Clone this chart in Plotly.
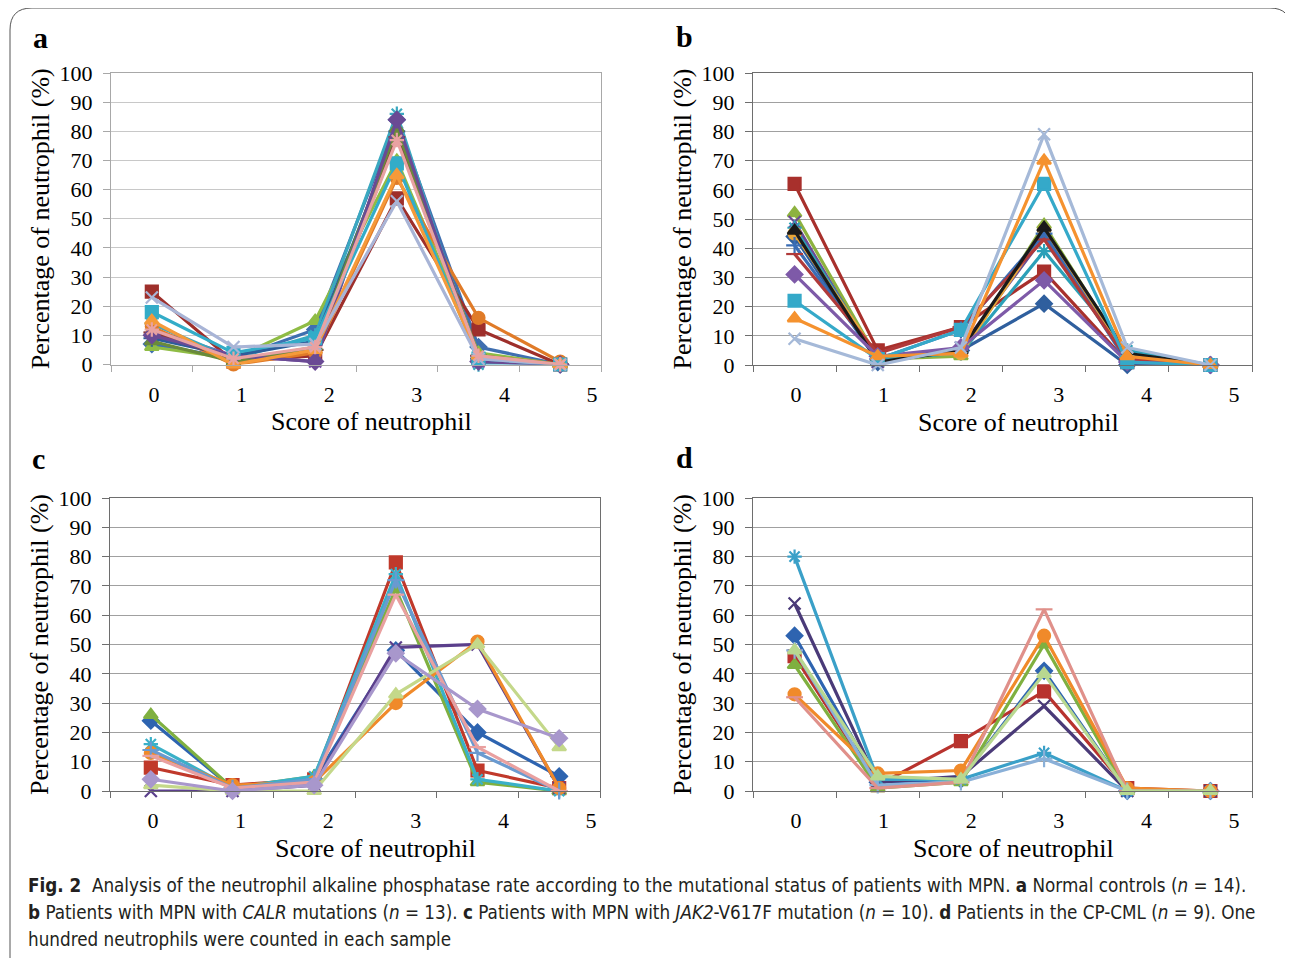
import plotly.graph_objects as go

# ---------------- data ----------------
scores = [0, 1, 2, 3, 4, 5]

# Panel a: normal controls (n = 14)
a_s1 = [7, 2, 12, 84, 6, 0]
a_s2 = [25, 1, 3, 57, 12, 0]
a_s3 = [6, 2, 15, 70, 4, 0]
a_s4 = [12, 3, 1, 83, 1, 0]
a_s5 = [14, 2, 10, 86, 0, 0]
a_s6 = [13, 0, 4, 64, 16, 1]
a_s7 = [9, 3, 8, 80, 2, 0]
a_s8 = [11, 2, 5, 78, 3, 0]
a_s9 = [8, 1, 6, 81, 3, 0]
a_s10 = [10, 3, 1, 84, 1, 0]
a_s11 = [18, 4, 9, 69, 2, 0]
a_s12 = [15, 0, 5, 65, 3, 0]
a_s13 = [23, 6, 7, 56, 2, 0]
a_s14 = [12, 2, 6, 77, 3, 0]

# Panel b: CALR mutations (n = 13)
b_s1 = [44, 1, 5, 21, 0, 0]
b_s2 = [62, 5, 13, 32, 1, 0]
b_s3 = [52, 2, 3, 48, 3, 0]
b_s4 = [49, 1, 6, 44, 2, 0]
b_s5 = [47, 2, 4, 39, 5, 0]
b_s6 = [45, 3, 4, 46, 3, 0]
b_s7 = [41, 2, 12, 45, 1, 0]
b_s8 = [38, 4, 13, 43, 2, 0]
b_s9 = [46, 1, 5, 47, 4, 0]
b_s10 = [31, 3, 6, 29, 1, 0]
b_s11 = [22, 2, 12, 62, 1, 0]
b_s12 = [16, 3, 4, 70, 3, 0]
b_s13 = [9, 0, 6, 79, 6, 0]

# Panel c: JAK2-V617F mutation (n = 10)
c_s1 = [24, 1, 4, 48, 20, 5]
c_s2 = [8, 2, 4, 78, 7, 1]
c_s3 = [26, 1, 5, 69, 3, 0]
c_s4 = [0, 0, 2, 49, 50, 1]
c_s5 = [16, 1, 5, 74, 4, 0]
c_s6 = [13, 2, 3, 30, 51, 1]
c_s7 = [14, 1, 4, 72, 13, 0]
c_s8 = [12, 1, 3, 67, 15, 0]
c_s9 = [2, 0, 0, 33, 50, 15]
c_s10 = [4, 0, 2, 47, 28, 18]

# Panel d: CP-CML (n = 9)
d_s1 = [53, 3, 4, 41, 0, 0]
d_s2 = [46, 2, 17, 34, 1, 0]
d_s3 = [43, 1, 3, 50, 0, 0]
d_s4 = [64, 3, 5, 29, 0, 0]
d_s5 = [80, 4, 4, 13, 0, 0]
d_s6 = [33, 6, 7, 53, 1, 0]
d_s7 = [48, 2, 3, 11, 0, 0]
d_s8 = [32, 1, 3, 62, 0, 0]
d_s9 = [48, 5, 4, 40, 0, 0]

panel_a = [a_s1, a_s2, a_s3, a_s4, a_s5, a_s6, a_s7, a_s8, a_s9, a_s10, a_s11, a_s12, a_s13, a_s14]
panel_b = [b_s1, b_s2, b_s3, b_s4, b_s5, b_s6, b_s7, b_s8, b_s9, b_s10, b_s11, b_s12, b_s13]
panel_c = [c_s1, c_s2, c_s3, c_s4, c_s5, c_s6, c_s7, c_s8, c_s9, c_s10]
panel_d = [d_s1, d_s2, d_s3, d_s4, d_s5, d_s6, d_s7, d_s8, d_s9]

panel_letters = ["a", "b", "c", "d"]
x_title = "Score of neutrophil"
y_title = "Percentage of neutrophil (%)"
caption_lines = [
    "<b>Fig. 2</b>  Analysis of the neutrophil alkaline phosphatase rate according to the mutational status of patients with MPN. <b>a</b> Normal controls (<i>n</i> = 14).",
    "<b>b</b> Patients with MPN with <i>CALR</i> mutations (<i>n</i> = 13). <b>c</b> Patients with MPN with <i>JAK2</i>-V617F mutation (<i>n</i> = 10). <b>d</b> Patients in the CP-CML (<i>n</i> = 9). One",
    "hundred neutrophils were counted in each sample",
]

# ---------------- styles ----------------
colors_a = ['#3f6fb0', '#9e2f2b', '#8fbc45', '#7a4fa8', '#3aa8c0', '#e07b28', '#2c5d9a',
            '#8a3a3a', '#6a8a3a', '#6a4a94', '#33acc8', '#f59a3a', '#a8b4d6', '#e8a2a2']
colors_b = ['#2f5f9e', '#a8302c', '#8db23f', '#6b4a94', '#2ca0b8', '#e8a63a', '#3a6db5',
            '#b03a3a', '#1a1a1a', '#7e5aa8', '#35a9c9', '#f5922f', '#a5b9d8']
colors_c = ['#2e64b0', '#c0392b', '#7fb040', '#5b3f8c', '#3ab0c8', '#f08a2a', '#6a9ad0',
            '#e9a0a0', '#c4d88a', '#a897cc']
colors_d = ['#2e64b0', '#b8332e', '#7fb040', '#4a3a78', '#3aa0c8', '#f08a2a', '#8ab0d8',
            '#e0908a', '#b8d890']
symbols = ['diamond', 'square', 'triangle-up', 'x-thin-open', 'asterisk-open', 'circle',
           'cross-thin-open', 'line-ew-open', 'triangle-up', 'diamond', 'square',
           'triangle-up', 'x-thin-open', 'asterisk-open']

W, H = 1293, 958
OFF = 8  # page body margin of the browser
def px(x):
    return (x - OFF) / W
def py(y):
    return 1 - (y - OFF) / H

SERIF = "Liberation Serif, Times New Roman, serif"

# pixel geometry (reference image coords) of each panel
geo = [
    dict(l=111, r=601, t=73, b=364.5, l0=154, l5=592, tx=371, lx=40, ly=38, border='#a8a8a8', grid='#c8c8c8'),
    dict(l=753, r=1252, t=73, b=365, l0=796, l5=1234, tx=1018, lx=684, ly=37, border='#6e6e6e', grid='#a0a0a0'),
    dict(l=110, r=600, t=498, b=791, l0=153, l5=591, tx=375, lx=38, ly=458, border='#6e6e6e', grid='#a0a0a0'),
    dict(l=753, r=1252, t=498, b=791, l0=796, l5=1234, tx=1013, lx=684, ly=457, border='#6e6e6e', grid='#a0a0a0'),
]

fig = go.Figure()
panels = [panel_a, panel_b, panel_c, panel_d]
panel_colors = [colors_a, colors_b, colors_c, colors_d]

for i, (series, cols) in enumerate(zip(panels, panel_colors)):
    k = i + 1
    for j, vals in enumerate(series):
        fig.add_trace(go.Scatter(
            x=scores, y=vals, mode='lines+markers',
            xaxis=f'x{k}', yaxis=f'y{k}',
            line=dict(color=cols[j], width=3.2),
            marker=dict(symbol=symbols[j], size=12, color=cols[j],
                        line=dict(color=cols[j], width=2.2)),
            cliponaxis=False, showlegend=False, hoverinfo='x+y'))
    fig.add_trace(go.Scatter(x=[], y=[], xaxis=f'x{k+4}', yaxis=f'y{k}',
                             showlegend=False, hoverinfo='skip'))

layout = dict(
    template='none',
    width=W, height=H, margin=dict(l=0, r=0, t=0, b=0, pad=0, autoexpand=False),
    paper_bgcolor='white', plot_bgcolor='white', showlegend=False,
    font=dict(family=SERIF, color='black'),
)

annotations = []
for i, g in enumerate(geo):
    k = i + 1
    layout[f'xaxis{k}'] = dict(
        domain=[px(g['l']), px(g['r'])], anchor=f'y{k}', range=[-0.5, 5.5],
        tickmode='linear', tick0=-0.5, dtick=1, ticks='outside', ticklen=6,
        tickcolor=g['border'], showticklabels=False, showgrid=False, zeroline=False,
        showline=True, linecolor=g['border'], linewidth=1, mirror=True, automargin=False)
    layout[f'yaxis{k}'] = dict(
        domain=[py(g['b']), py(g['t'])], anchor=f'x{k}', range=[0, 100],
        tickmode='linear', tick0=0, dtick=10, ticks='outside', ticklen=7,
        tickcolor=g['border'], showgrid=True, gridcolor=g['grid'], gridwidth=1,
        zeroline=False, showline=True, linecolor=g['border'], linewidth=1, mirror=True,
        tickfont=dict(family=SERIF, size=22, color='black'), ticklabelstandoff=6,
        automargin=False,
        title=dict(text=y_title, font=dict(family=SERIF, size=26, color='black'), standoff=2))
    # label axis overlaying the data axis: the printed labels are spaced wider than the categories
    step = (g['l5'] - g['l0']) / 5.0
    lo = (g['l'] - g['l0']) / step
    hi = (g['r'] - g['l0']) / step
    layout[f'xaxis{k+4}'] = dict(
        overlaying=f'x{k}', anchor=f'y{k}', side='bottom', range=[lo, hi],
        tickmode='linear', tick0=0, dtick=1, ticks='', showgrid=False, zeroline=False,
        showline=False, tickfont=dict(family=SERIF, size=22, color='black'),
        ticklabelstandoff=14, automargin=False)
    annotations.append(dict(text=x_title, x=px(g['tx']), y=py(g['b'] + 57), xref='paper',
                            yref='paper', showarrow=False, xanchor='center', yanchor='middle',
                            font=dict(family=SERIF, size=26, color='black')))
    annotations.append(dict(text=f"<b>{panel_letters[i]}</b>", x=px(g['lx']), y=py(g['ly']),
                            xref='paper', yref='paper', showarrow=False,
                            xanchor='center', yanchor='middle',
                            font=dict(family=SERIF, size=30, color='black')))

CAP = "Liberation Sans Narrow, DejaVu Sans Condensed, Arial Narrow, sans-serif"
for line, yy in zip(caption_lines, [885, 912, 939]):
    annotations.append(dict(text=line, x=px(26), y=py(yy), xref='paper', yref='paper',
                            showarrow=False, xanchor='left', yanchor='middle',
                            font=dict(family=CAP, size=18.7, color='#231f20')))
layout['annotations'] = annotations

# rounded frame around the figure
path = (f"M {px(10)},{py(962)} L {px(10)},{py(30)} Q {px(10)},{py(8)} {px(32)},{py(8)} "
        f"L {px(1270)},{py(8)} Q {px(1291)},{py(8)} {px(1291)},{py(30)}")
layout['shapes'] = [dict(type='path', path=path, xref='paper', yref='paper',
                         line=dict(color='#555555', width=1))]

fig.update_layout(**layout)
fig.write_html("out.html")
